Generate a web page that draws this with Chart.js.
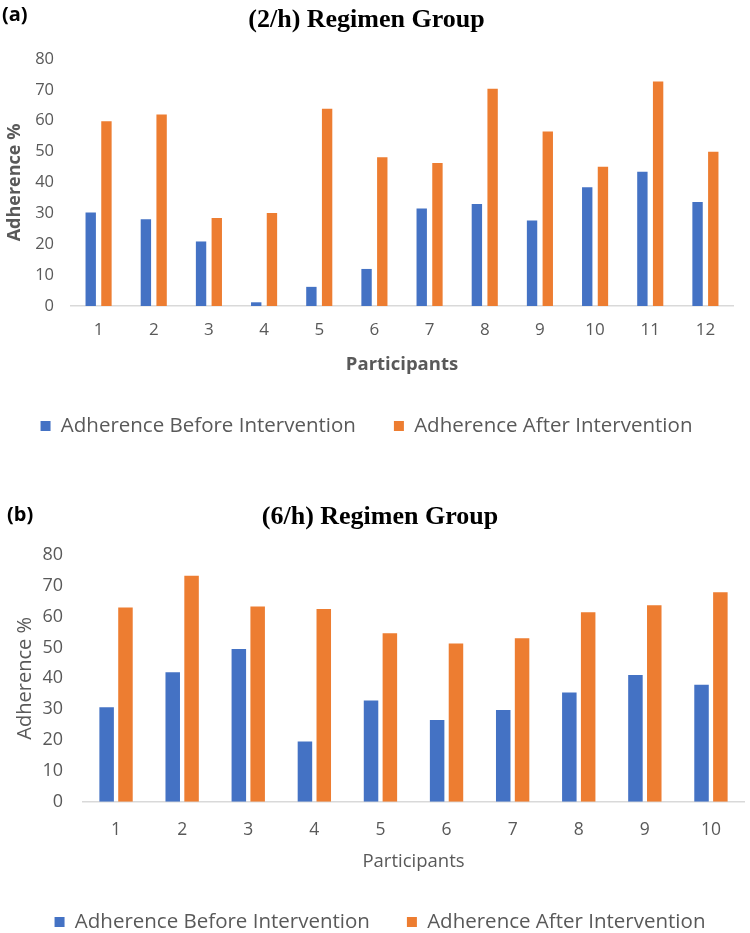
<!DOCTYPE html>
<html><head><meta charset="utf-8">
<script src="https://cdn.jsdelivr.net/npm/chart.js@4.4.0/dist/chart.umd.min.js"></script>
<style>
html,body{margin:0;padding:0;background:#fff;}
body{width:750px;height:933px;position:relative;overflow:hidden;}
canvas{position:absolute;left:0;}
#ca{top:0}
#cb{top:470px}
.lab{position:absolute;z-index:5;font-family:'Open Sans';font-weight:700;font-size:20px;color:#000;line-height:1}
</style></head><body>
<div class="lab" style="left:2px;top:4px">(a)</div>
<div class="lab" style="left:7px;top:504px">(b)</div>
<canvas id="ca" width="750" height="460"></canvas>
<canvas id="cb" width="750" height="463"></canvas>
<script>
// ---- data ----
const participantsA = ['1','2','3','4','5','6','7','8','9','10','11','12'];
const beforeA = [30.3, 28.1, 20.9, 1.2, 6.2, 12.0, 31.6, 33.0, 27.7, 38.5, 43.5, 33.7];
const afterA  = [59.8, 62.0, 28.5, 30.1, 63.9, 48.2, 46.3, 70.4, 56.5, 45.1, 72.7, 50.0];
const participantsB = ['1','2','3','4','5','6','7','8','9','10'];
const beforeB = [30.6, 42.0, 49.5, 19.5, 32.8, 26.5, 29.7, 35.4, 41.1, 37.9];
const afterB  = [63.0, 73.3, 63.3, 62.5, 54.6, 51.3, 53.0, 61.4, 63.7, 67.9];
const seriesNames = ['Adherence Before Intervention', 'Adherence After Intervention'];
const titleA = '(2/h) Regimen Group';
const titleB = '(6/h) Regimen Group';
const yTitle = 'Adherence %';
const xTitle = 'Participants';
const yMin = 0, yMax = 80, yStep = 10;

const BLUE = '#4472C4', ORANGE = '#ED7D31', GRAY = '#595959';
const SANS = "'Open Sans', sans-serif";

function makeChart(id, labels, before, after, c) {
  return new Chart(document.getElementById(id), {
    type: 'bar',
    data: {
      labels: labels,
      datasets: [
        {label: seriesNames[0], data: before, backgroundColor: BLUE, borderWidth: 0,
         barPercentage: c.bp, categoryPercentage: c.cp},
        {label: seriesNames[1], data: after, backgroundColor: ORANGE, borderWidth: 0,
         barPercentage: c.bp, categoryPercentage: c.cp}
      ]
    },
    options: {
      responsive: false, animation: false, devicePixelRatio: 1,
      layout: {padding: {left: c.padLeft, right: c.padRight, top: 0, bottom: c.padBottom}},
      plugins: {
        tooltip: {enabled: false},
        title: {display: true, text: c.title, color: '#000',
          font: {family: "'Liberation Serif', serif", weight: 'bold', size: 26, lineHeight: 1.2},
          padding: {top: c.titleTop, bottom: c.titleBottom}},
        legend: {position: 'bottom', align: 'center',
          labels: {boxWidth: 10, boxHeight: 10, padding: c.legPad, color: GRAY,
            font: {family: SANS, size: 20.5, lineHeight: 1.2}}}
      },
      scales: {
        x: {
          grid: {display: false, drawTicks: false},
          border: {display: true, color: '#D9D9D9', width: 1.5},
          ticks: {color: GRAY, padding: c.xTickPad, font: {family: SANS, size: c.xTickSize, lineHeight: 1.2}},
          title: {display: true, text: xTitle, color: GRAY,
            font: {family: SANS, size: 18.5, weight: c.bold ? 'bold' : 'normal', lineHeight: c.xTitleLH},
            padding: {top: 0, bottom: c.xTitlePad}},
          afterFit: s => { s.height = c.xHeight; }
        },
        y: {
          min: yMin, max: yMax,
          grid: {display: false, drawTicks: false},
          border: {display: false},
          ticks: {stepSize: yStep, color: GRAY, padding: c.yTickPad, font: {family: SANS, size: c.yTickSize}},
          title: {display: true, text: yTitle, color: GRAY,
            font: {family: SANS, size: c.yTitleSize, weight: c.bold ? 'bold' : 'normal', lineHeight: 1.2},
            padding: {top: c.yTitlePad, bottom: 0}},
          afterFit: s => { s.width = c.yWidth; }
        }
      }
    }
  });
}

makeChart('ca', participantsA, beforeA, afterA, {
  title: titleA, bp: 0.66, cp: 0.57, padLeft: 0, padRight: 17, padBottom: 13.75,
  titleTop: 4.4, titleBottom: 23.4, legPad: 38, xTickPad: 13.8, xTickSize: 17,
  bold: true, xTitleLH: 1.2, xTitlePad: 1.65, xHeight: 71.75,
  yTickPad: 17, yTickSize: 16.5, yTitleSize: 18, yTitlePad: 4.2, yWidth: 71
});

makeChart('cb', participantsB, beforeB, afterB, {
  title: titleB, bp: 0.77, cp: 0.57, padLeft: 16, padRight: 6, padBottom: -9.25,
  titleTop: 31.4, titleBottom: 22.4, legPad: 37, xTickPad: 17.8, xTickSize: 17.5,
  bold: false, xTitleLH: 1.0, xTitlePad: 3.5, xHeight: 73.05,
  yTickPad: 20, yTickSize: 18, yTitleSize: 20, yTitlePad: -3, yWidth: 67
});
</script>
</body></html>
